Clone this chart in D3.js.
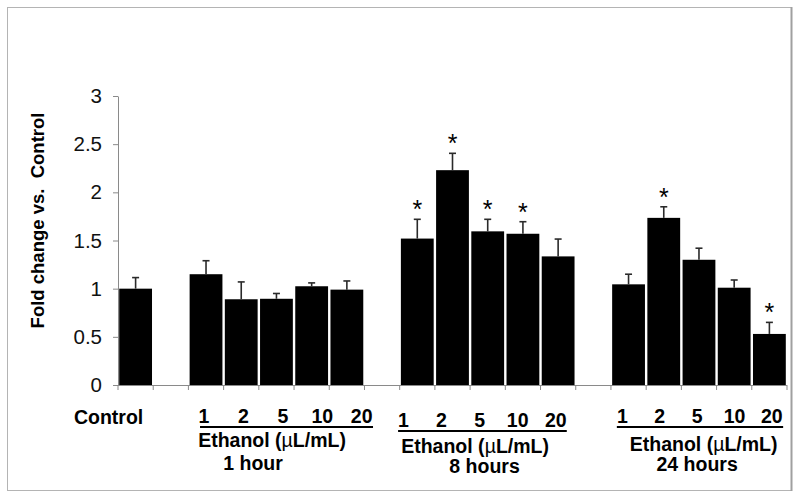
<!DOCTYPE html>
<html>
<head>
<meta charset="utf-8">
<script src="https://cdn.jsdelivr.net/npm/d3@7"></script>
<style>
  body { margin: 0; background: #fff; }
  svg { display: block; font-family: "Liberation Sans", Arial, sans-serif; }
</style>
</head>
<body>
<div id="chart"></div>
<script>
// values
const concentrations = ['1', '2', '5', '10', '20'];
const timeLabels = ['1 hour', '8 hours', '24 hours'];
const controlMean = [1.0];
const controlErr = [0.115];
const means1h = [1.15, 0.89, 0.895, 1.025, 0.99];
const errs1h = [0.14, 0.18, 0.055, 0.035, 0.09];
const sig1h = [false, false, false, false, false];
const means8h = [1.52, 2.23, 1.595, 1.57, 1.335];
const errs8h = [0.2, 0.175, 0.125, 0.125, 0.18];
const sig8h = [true, true, true, true, false];
const means24h = [1.045, 1.735, 1.3, 1.01, 0.53];
const errs24h = [0.105, 0.115, 0.12, 0.08, 0.12];
const sig24h = [false, true, false, false, true];
const yTicks = [0, 0.5, 1, 1.5, 2, 2.5, 3];
const yTickLabels = ['0', '0.5', '1', '1.5', '2', '2.5', '3'];

const width = 800, height = 501;
const plot = { left: 118, right: 787, top: 96, bottom: 385 };

// one slot per bar, with an empty slot between groups
const groups = [
  { id: '1h', means: means1h, errs: errs1h, sig: sig1h },
  { id: '8h', means: means8h, errs: errs8h, sig: sig8h },
  { id: '24h', means: means24h, errs: errs24h, sig: sig24h },
];
const rows = [{ key: 'ctrl', mean: controlMean[0], err: controlErr[0], sig: false }];
groups.forEach((g) => {
  rows.push({ key: 'gap-' + g.id, mean: null });
  concentrations.forEach((c, i) =>
    rows.push({ key: g.id + '-' + c, mean: g.means[i], err: g.errs[i], sig: g.sig[i] }));
});
const bars = rows.filter((d) => d.mean !== null);

// label placement of the text boxes below each group (px from the group's first slot)
const groupLayout = [
  { numFrom: 15.6, numTo: 173.3, numY: 423.3, lineFrom: 11.6, lineTo: 184.6, lineY: 427, capX: 83.6, capY: 446.7, timeX: 64.6, timeY: 470 },
  { numFrom: 3.7, numTo: 156.1, numY: 426.7, lineFrom: -1.6, lineTo: 167.1, lineY: 431, capX: 75.4, capY: 452.7, timeX: 84.9, timeY: 473.3 },
  { numFrom: 11.5, numTo: 160.9, numY: 423.3, lineFrom: 5.9, lineTo: 172.2, lineY: 427, capX: 92.7, capY: 450.5, timeX: 86.2, timeY: 470.7 },
];

const svg = d3.select('#chart').append('svg')
  .attr('width', width)
  .attr('height', height);

svg.append('rect')
  .attr('x', 7.5).attr('y', 7.5)
  .attr('width', 784).attr('height', 483)
  .attr('fill', 'none')
  .attr('stroke', '#b4b4b4');
svg.append('line')
  .attr('x1', 791.5).attr('x2', 791.5).attr('y1', 7).attr('y2', 491)
  .attr('stroke', '#a0a0a0').attr('stroke-width', 2);

const x = d3.scaleBand()
  .domain(rows.map((d) => d.key))
  .range([plot.left, plot.right]);
const y = d3.scaleLinear().domain([0, 3]).range([plot.bottom, plot.top]);
const inset = 1.2;

// y axis
const yAxis = svg.append('g')
  .attr('transform', `translate(${plot.left},0)`)
  .call(d3.axisLeft(y)
    .tickValues(yTicks)
    .tickFormat((d, i) => yTickLabels[i])
    .tickSize(5)
    .tickSizeOuter(0)
    .tickPadding(11));
yAxis.select('.domain').attr('stroke', '#8a8a8a');
yAxis.selectAll('.tick line').attr('stroke', '#8a8a8a');
yAxis.selectAll('.tick text')
  .attr('fill', '#111')
  .style('font-size', '20.5px');

svg.append('text')
  .attr('transform', `translate(37,${(plot.top + plot.bottom) / 2 - 20}) rotate(-90)`)
  .attr('text-anchor', 'middle')
  .attr('dominant-baseline', 'central')
  .style('font-size', '18.5px')
  .style('font-weight', 'bold')
  .style('white-space', 'pre')
  .text('Fold change vs.  Control');

// bars
svg.append('g').selectAll('rect')
  .data(bars)
  .enter()
  .append('rect')
  .attr('x', (d) => x(d.key) + inset)
  .attr('y', (d) => y(d.mean))
  .attr('width', x.bandwidth() - 2 * inset)
  .attr('height', (d) => y(0) - y(d.mean))
  .attr('fill', '#000');

// upper error bars
const eb = svg.append('g').attr('stroke', '#2a2a2a').attr('stroke-width', 1.6);
bars.forEach((d) => {
  const cx = x(d.key) + x.bandwidth() / 2;
  eb.append('line')
    .attr('x1', cx).attr('x2', cx)
    .attr('y1', y(d.mean)).attr('y2', y(d.mean + d.err));
  eb.append('line')
    .attr('x1', cx - 3.5).attr('x2', cx + 3.5)
    .attr('y1', y(d.mean + d.err)).attr('y2', y(d.mean + d.err));
});

// significance stars
svg.append('g').selectAll('text')
  .data(bars.filter((d) => d.sig))
  .enter()
  .append('text')
  .attr('x', (d) => x(d.key) + x.bandwidth() / 2)
  .attr('y', (d) => y(d.mean + d.err) - 1)
  .attr('text-anchor', 'middle')
  .style('font-size', '25px')
  .text('*');

// x axis with ticks at slot boundaries
const xAxis = svg.append('g').attr('stroke', '#8a8a8a');
xAxis.append('line')
  .attr('x1', plot.left).attr('x2', plot.right)
  .attr('y1', y(0) + 0.5).attr('y2', y(0) + 0.5);
const bounds = rows.map((d) => x(d.key)).concat([plot.right]);
xAxis.selectAll('.xt')
  .data(bounds)
  .enter()
  .append('line')
  .attr('x1', (d) => d).attr('x2', (d) => d)
  .attr('y1', y(0)).attr('y2', y(0) + 5);

// category labels
const labels = svg.append('g')
  .style('font-size', '19.5px')
  .style('font-weight', 'bold')
  .attr('fill', '#000');

labels.append('text')
  .attr('x', x('ctrl') + x.bandwidth() / 2 - 27)
  .attr('y', 424)
  .attr('text-anchor', 'middle')
  .text('Control');

groups.forEach((g, gi) => {
  const L = groupLayout[gi];
  const x0 = x(g.id + '-' + concentrations[0]);
  const pos = d3.scalePoint()
    .domain(concentrations)
    .range([x0 + L.numFrom, x0 + L.numTo]);
  labels.selectAll('.num-' + g.id)
    .data(concentrations)
    .enter()
    .append('text')
    .attr('x', (c) => pos(c))
    .attr('y', L.numY)
    .attr('text-anchor', 'middle')
    .text((c) => c);
  labels.append('line')
    .attr('x1', x0 + L.lineFrom).attr('x2', x0 + L.lineTo)
    .attr('y1', L.lineY).attr('y2', L.lineY)
    .attr('stroke', '#000').attr('stroke-width', 2);
  const cap = labels.append('text')
    .attr('x', x0 + L.capX)
    .attr('y', L.capY)
    .attr('text-anchor', 'middle');
  cap.append('tspan').text('Ethanol (');
  cap.append('tspan').style('font-weight', 'normal').text('µ');
  cap.append('tspan').text('L/mL)');
  labels.append('text')
    .attr('x', x0 + L.timeX)
    .attr('y', L.timeY)
    .attr('text-anchor', 'middle')
    .text(timeLabels[gi]);
});
</script>
</body>
</html>
